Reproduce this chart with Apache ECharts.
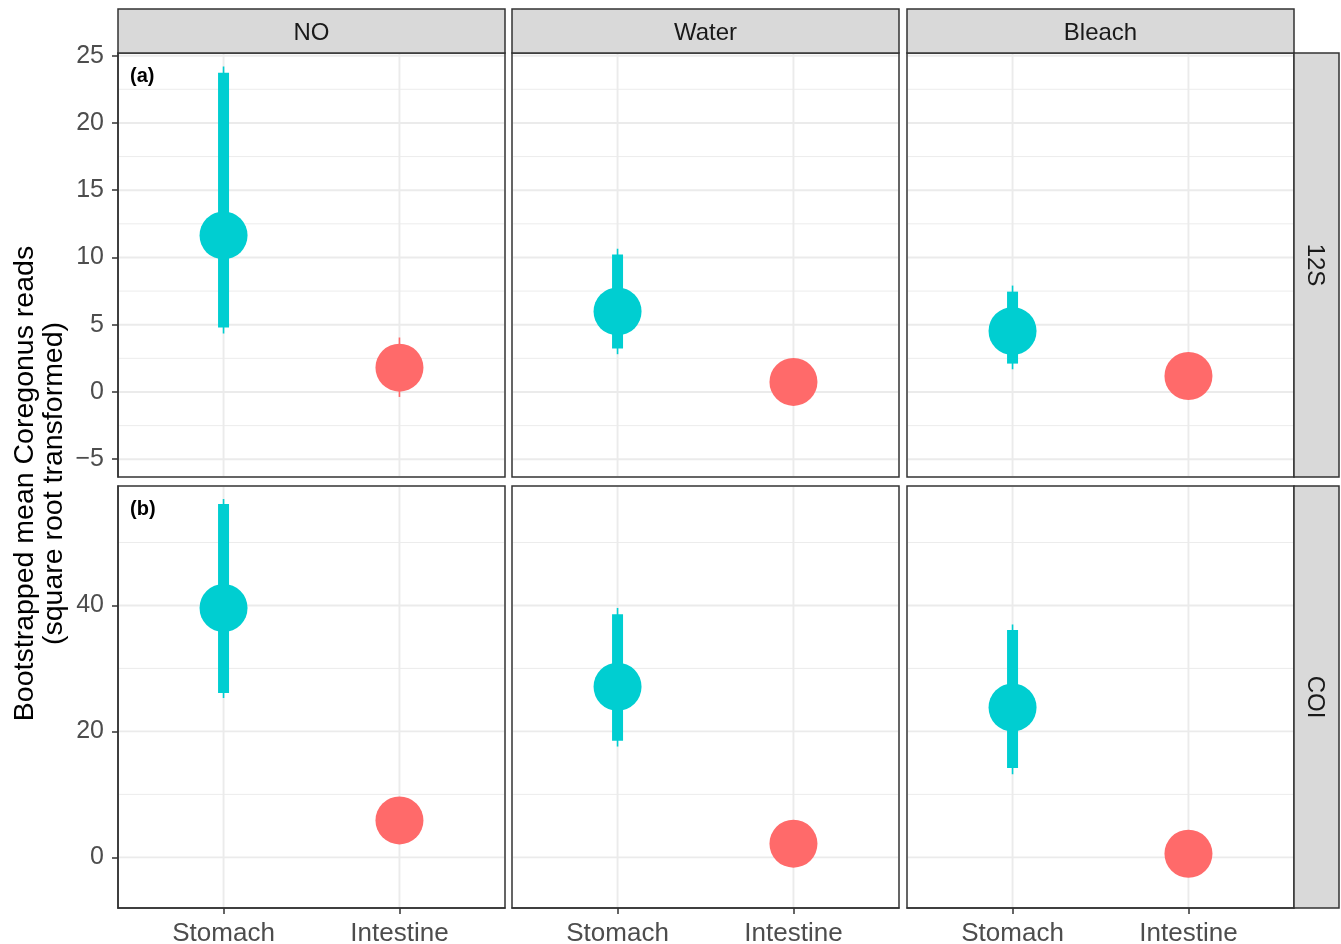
<!DOCTYPE html>
<html>
<head>
<meta charset="utf-8">
<title>Bootstrapped mean Coregonus reads</title>
<script src="https://cdn.jsdelivr.net/npm/echarts@6/dist/echarts.min.js"></script>
<style>
  html, body { margin: 0; padding: 0; background: #ffffff; }
  #chart { width: 1341px; height: 944px; }
</style>
</head>
<body>
<div id="chart"></div>
<script>
// Facet labels and categories
const treatments = ['NO', 'Water', 'Bleach'];
const markers = ['12S', 'COI'];
const tissues = ['Stomach', 'Intestine'];
const panelTags = ['(a)', '(b)'];

// 12S: bootstrapped mean and the two interval widths, per treatment [Stomach, Intestine]
const mean12S      = [[11.64, 1.81], [5.99, 0.75], [4.53, 1.19]];
const lowInner12S  = [[4.80, 0.30], [3.23, 0.10], [2.11, 0.45]];
const highInner12S = [[23.73, 3.30], [10.22, 1.40], [7.46, 1.95]];
const lowOuter12S  = [[4.35, -0.37], [2.81, -0.30], [1.69, 0.05]];
const highOuter12S = [[24.20, 4.05], [10.65, 1.85], [7.91, 2.45]];

// COI
const meanCOI      = [[39.6, 5.87], [27.1, 2.17], [23.8, 0.58]];
const lowInnerCOI  = [[26.1, 3.4], [18.5, 0.6], [14.2, 0.1]];
const highInnerCOI = [[56.1, 8.3], [38.6, 3.7], [36.1, 1.2]];
const lowOuterCOI  = [[25.3, 2.6], [17.6, 0.2], [13.2, 0.0]];
const highOuterCOI = [[56.9, 9.1], [39.6, 4.5], [36.98, 2.1]];

// Y scales per row
const yRange12S = [-6.32, 25.2];
const yRangeCOI = [-8.04, 58.97];
const yTicks12S = [-5, 0, 5, 10, 15, 20, 25];
const yMinor12S = [-2.5, 2.5, 7.5, 12.5, 17.5, 22.5];
const yTicksCOI = [0, 20, 40];
const yMinorCOI = [10, 30, 50];
const xPositions = [1, 2];
const xRange = [0.4, 2.6];

// ---- layout (pixels) ----
const colLeft = [118, 512, 907];
const colWidth = 387;
const rowTop = [53, 486];
const rowHeight = [424, 422];
const stripTop = 9;
const stripSize = 44;

const COLORS = ['#00CED1', '#FF6A6A'];
const FONT = "'Liberation Sans', Arial, Helvetica, sans-serif";
const BORDER = '#333333';
const GRIDLINE = '#EBEBEB';

const rows = [
  { mean: mean12S, li: lowInner12S, hi: highInner12S, lo: lowOuter12S, ho: highOuter12S,
    range: yRange12S, ticks: yTicks12S, minor: yMinor12S },
  { mean: meanCOI, li: lowInnerCOI, hi: highInnerCOI, lo: lowOuterCOI, ho: highOuterCOI,
    range: yRangeCOI, ticks: yTicksCOI, minor: yMinorCOI }
];

const grids = [], xAxes = [], yAxes = [], series = [], graphics = [];

rows.forEach((row, r) => {
  treatments.forEach((t, c) => {
    const idx = grids.length;
    const isLeft = c === 0;
    const isBottom = r === rows.length - 1;

    grids.push({
      left: colLeft[c], top: rowTop[r], width: colWidth, height: rowHeight[r],
      outerBoundsMode: 'none', containLabel: false,
      show: true, backgroundColor: '#ffffff', borderColor: BORDER, borderWidth: 1.5
    });

    xAxes.push({
      gridIndex: idx, type: 'value', min: xRange[0], max: xRange[1], position: 'bottom',
      axisLine: { show: isBottom, onZero: false, lineStyle: { color: BORDER, width: 1.5 } },
      axisTick: { show: isBottom, customValues: xPositions, length: 6,
                  lineStyle: { color: BORDER, width: 1.5 } },
      axisLabel: { show: isBottom, customValues: xPositions, margin: 13,
                   color: '#4D4D4D', fontSize: 26, fontFamily: FONT,
                   formatter: v => tissues[Math.round(v) - 1] },
      splitLine: { show: false }
    });

    yAxes.push({
      gridIndex: idx, type: 'value', min: row.range[0], max: row.range[1], position: 'left',
      axisLine: { show: isLeft, onZero: false, lineStyle: { color: BORDER, width: 1.5 } },
      axisTick: { show: isLeft, customValues: row.ticks, length: 6,
                  lineStyle: { color: BORDER, width: 1.5 } },
      axisLabel: { show: isLeft, customValues: row.ticks, margin: 14,
                   color: '#4D4D4D', fontSize: 25, fontFamily: FONT,
                   formatter: v => (v < 0 ? '\u2212' + Math.abs(v) : String(v)) },
      splitLine: { show: false }
    });

    // panel gridlines: [orientation (0 horizontal, 1 vertical), value, major flag]
    const lines = [];
    row.minor.forEach(v => lines.push([0, v, 0]));
    row.ticks.forEach(v => lines.push([0, v, 1]));
    xPositions.forEach(v => lines.push([1, v, 1]));
    series.push({
      type: 'custom', xAxisIndex: idx, yAxisIndex: idx, z: 1, silent: true,
      data: lines,
      renderItem(params, api) {
        const cs = params.coordSys;
        const major = api.value(2) === 1;
        const style = { stroke: GRIDLINE, lineWidth: major ? 1.9 : 0.95 };
        if (api.value(0) === 0) {
          const y = api.coord([1, api.value(1)])[1];
          return { type: 'line', shape: { x1: cs.x + 1, y1: y, x2: cs.x + cs.width - 1, y2: y }, style };
        }
        const x = api.coord([api.value(1), 0])[0];
        return { type: 'line', shape: { x1: x, y1: cs.y + 1, x2: x, y2: cs.y + cs.height - 1 }, style };
      }
    });

    // interval bars: [x, mean, innerLow, innerHigh, outerLow, outerHigh, tissue index]
    const pts = tissues.map((_, k) => [xPositions[k], row.mean[c][k], row.li[c][k], row.hi[c][k],
                                       row.lo[c][k], row.ho[c][k], k]);
    series.push({
      type: 'custom', xAxisIndex: idx, yAxisIndex: idx, z: 3, silent: true,
      data: pts,
      renderItem(params, api) {
        const x = api.value(0);
        const color = COLORS[api.value(6)];
        const oTop = api.coord([x, api.value(5)]);
        const oBot = api.coord([x, api.value(4)]);
        const iTop = api.coord([x, api.value(3)]);
        const iBot = api.coord([x, api.value(2)]);
        return {
          type: 'group',
          children: [
            { type: 'line', shape: { x1: oTop[0], y1: oTop[1], x2: oBot[0], y2: oBot[1] },
              style: { stroke: color, lineWidth: 1.6 } },
            { type: 'rect', shape: { x: iTop[0] - 5.5, y: iTop[1], width: 11, height: iBot[1] - iTop[1] },
              style: { fill: color } }
          ]
        };
      }
    });

    series.push({
      type: 'scatter', xAxisIndex: idx, yAxisIndex: idx, z: 4, silent: true,
      symbol: 'circle', symbolSize: 48,
      data: pts.map(p => [p[0], p[1], p[6]]),
      itemStyle: { opacity: 1, color: p => COLORS[p.data[2]] }
    });

    // strips across the top
    if (r === 0) {
      graphics.push({
        type: 'rect', silent: true, z: 10,
        shape: { x: colLeft[c], y: stripTop, width: colWidth, height: stripSize },
        style: { fill: '#D9D9D9', stroke: BORDER, lineWidth: 1.5 }
      });
      graphics.push({
        type: 'text', silent: true, z: 11,
        x: colLeft[c] + colWidth / 2, y: stripTop + stripSize / 2 + 2,
        style: { text: t, fill: '#1A1A1A', font: '24px ' + FONT, align: 'center', verticalAlign: 'middle' }
      });
    }
  });

  // strip on the right side of each row
  const right = colLeft[2] + colWidth;
  graphics.push({
    type: 'rect', silent: true, z: 10,
    shape: { x: right, y: rowTop[r], width: stripSize + 1, height: rowHeight[r] },
    style: { fill: '#D9D9D9', stroke: BORDER, lineWidth: 1.5 }
  });
  graphics.push({
    type: 'text', silent: true, z: 11, rotation: -Math.PI / 2,
    x: right + (stripSize + 1) / 2 - 2, y: rowTop[r] + rowHeight[r] / 2,
    style: { text: markers[r], fill: '#1A1A1A', font: '24px ' + FONT, align: 'center', verticalAlign: 'middle' }
  });

  // panel tag in the first column
  graphics.push({
    type: 'text', silent: true, z: 11,
    x: colLeft[0] + 12, y: rowTop[r] + 23,
    style: { text: panelTags[r], fill: '#000000', font: 'bold 20px ' + FONT, align: 'left', verticalAlign: 'middle' }
  });
});

// y-axis title
graphics.push({
  type: 'text', silent: true, z: 11, rotation: Math.PI / 2,
  x: 40, y: (rowTop[0] + rowTop[1] + rowHeight[1]) / 2 + 3,
  style: {
    text: 'Bootstrapped mean Coregonus reads\n(square root transformed)',
    fill: '#000000', font: '28.5px ' + FONT, lineHeight: 29,
    align: 'center', verticalAlign: 'middle'
  }
});

const chart = echarts.init(document.getElementById('chart'), null, { renderer: 'canvas' });
chart.setOption({
  animation: false,
  backgroundColor: '#ffffff',
  grid: grids,
  xAxis: xAxes,
  yAxis: yAxes,
  series: series,
  graphic: { elements: graphics }
});
</script>
</body>
</html>
